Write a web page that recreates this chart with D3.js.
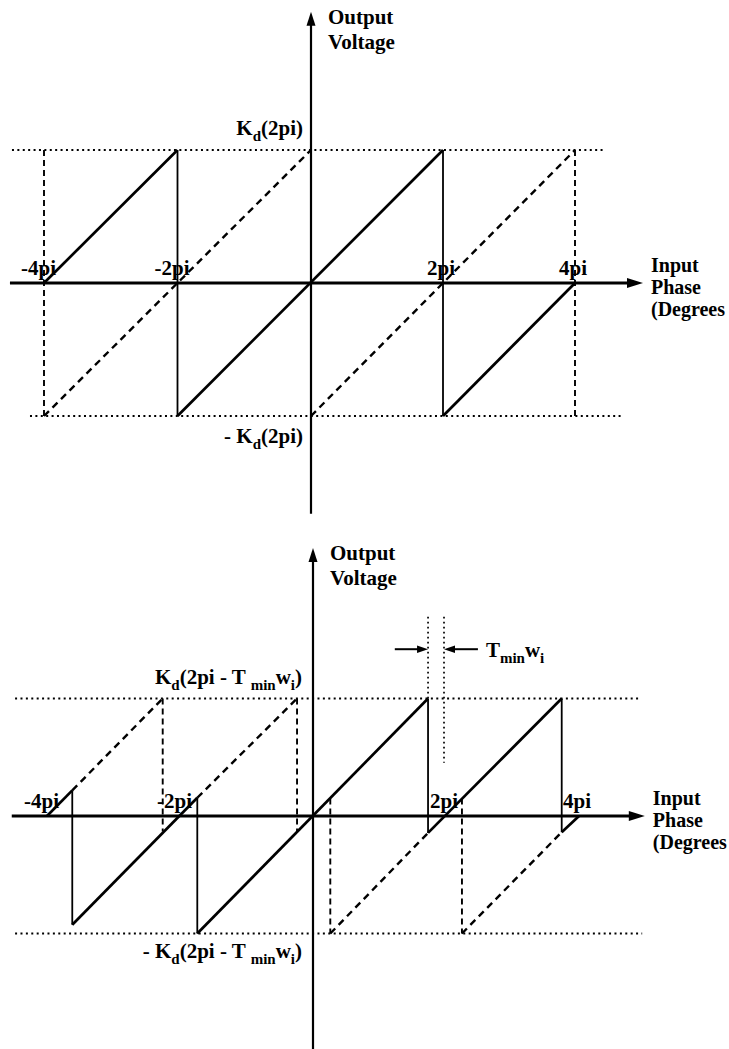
<!DOCTYPE html>
<html>
<head>
<meta charset="utf-8">
<script src="https://cdn.jsdelivr.net/npm/d3@7"></script>
<style>
  html, body { margin: 0; padding: 0; background: #fff; }
  svg { display: block; }
  text { font-family: "Liberation Serif", "Times New Roman", serif; font-weight: bold; font-size: 21px; fill: #000; }
  text.xtitle { font-size: 20px; }
</style>
</head>
<body>
<svg id="chart" width="729" height="1049"></svg>
<script>
// Phase is measured in multiples of pi; output voltage uses the same units (Kd = 1).
const phaseTicks = [-4, -2, 2, 4];
const phaseTickLabels = ["-4pi", "-2pi", "2pi", "4pi"];

// ---- Ideal phase detector (no dead time) ----
const idealRamps = [
  [[-4, 0], [-2, 2]],
  [[-2, -2], [2, 2]],
  [[2, -2], [4, 0]]
];
const idealResets = [
  [[-2, 2], [-2, -2]],
  [[2, 2], [2, -2]]
];
const idealAltRamps = [
  [[-4, -2], [0, 2]],
  [[0, -2], [4, 2]]
];
const idealAltBounds = [
  [[-4, 2], [-4, -2]],
  [[4, 2], [4, -2]]
];
const idealLimits = [
  { v: 2, from: -4.48, to: 4.45 },
  { v: -2, from: -4.21, to: 4.71 }
];

// ---- Phase detector with minimum pulse width Tmin*wi (~0.27 pi) ----
const deadRamps = [
  [[-4, 0], [-3.62, 0.38]],
  [[-3.62, -1.61], [-1.74, 0.27]],
  [[-1.74, -1.74], [1.73, 1.74]],
  [[1.73, -0.25], [3.74, 1.74]],
  [[3.74, -0.24], [4.0, 0]]
];
const deadResets = [
  [[-3.62, 0.38], [-3.62, -1.61]],
  [[-1.74, 0.27], [-1.74, -1.74]],
  [[1.73, 1.74], [1.73, -0.25]],
  [[3.74, 1.74], [3.74, -0.24]]
];
const deadAltRamps = [
  [[-3.62, 0.38], [-2.26, 1.74]],
  [[-1.74, 0.27], [-0.24, 1.74]],
  [[0.26, -1.74], [1.73, -0.25]],
  [[2.24, -1.74], [3.74, -0.24]]
];
const deadAltBounds = [
  [[-2.26, 1.74], [-2.26, -0.23]],
  [[-0.24, 1.74], [-0.24, -0.23]],
  [[0.26, 0.26], [0.26, -1.74]],
  [[2.24, 0.26], [2.24, -1.74]]
];
const deadLimits = [
  { v: 1.74, from: -4.48, to: 4.92 },
  { v: -1.74, from: -4.48, to: 4.95 }
];
// Tmin*wi gap marker
const gapGuides = [
  [[1.73, 2.95], [1.73, 1.74]],
  [[1.97, 2.95], [1.97, 0.79]]
];
const gapArrows = [
  { from: [1.23, 2.47], to: [1.73, 2.47] },
  { from: [2.48, 2.47], to: [1.97, 2.47] }
];

const svg = d3.select("#chart");

function addRich(g, x, y, parts, anchor) {
  const t = g.append("text").attr("x", x).attr("y", y).attr("text-anchor", anchor || "start");
  let shifted = 0;
  parts.forEach(p => {
    const s = t.append("tspan").text(p.t);
    const want = p.sub ? 6 : 0;
    if (want !== shifted) { s.attr("dy", want - shifted); shifted = want; }
    if (p.sub) s.style("font-size", "15px");
  });
  return t;
}

function arrowHead(g, tip, dir, len, half) {
  // dir: unit vector pointing toward the tip
  const [tx, ty] = tip, [dx, dy] = dir;
  const bx = tx - dx * len, by = ty - dy * len;
  const px = -dy * half, py = dx * half;
  g.append("path")
    .attr("d", `M${tx},${ty}L${bx + px},${by + py}L${bx - px},${by - py}Z`)
    .attr("fill", "#000");
}

function drawPanel(cfg) {
  const { x, y } = cfg;
  const g = svg.append("g");
  const line = d3.line().x(d => x(d[0])).y(d => y(d[1]));

  // limit levels (dotted)
  g.selectAll(".limit").data(cfg.limits).join("line")
    .attr("x1", d => x(d.from)).attr("x2", d => x(d.to))
    .attr("y1", d => y(d.v)).attr("y2", d => y(d.v))
    .attr("stroke", "#000").attr("stroke-width", 2)
    .attr("stroke-dasharray", "2,3.4");

  // axes
  g.append("line")
    .attr("x1", x(cfg.xAxis[0])).attr("x2", x(cfg.xAxis[1]) - 10)
    .attr("y1", y(0)).attr("y2", y(0))
    .attr("stroke", "#000").attr("stroke-width", 2.8);
  arrowHead(g, [x(cfg.xAxis[1]), y(0)], [1, 0], 16, 5);
  g.append("line")
    .attr("x1", x(0)).attr("x2", x(0))
    .attr("y1", y(cfg.yAxis[0])).attr("y2", y(cfg.yAxis[1]) + 8)
    .attr("stroke", "#000").attr("stroke-width", 2.2);
  arrowHead(g, [x(0), y(cfg.yAxis[1])], [0, -1], 14, 4.5);

  // alternate branch (dashed)
  g.selectAll(".altRamp").data(cfg.altRamps).join("path")
    .attr("d", line).attr("fill", "none")
    .attr("stroke", "#000").attr("stroke-width", 2.4)
    .attr("stroke-dasharray", "7,5");
  g.selectAll(".altBound").data(cfg.altBounds).join("path")
    .attr("d", line).attr("fill", "none")
    .attr("stroke", "#000").attr("stroke-width", 1.9)
    .attr("stroke-dasharray", "6,4");

  // detector characteristic (solid)
  g.selectAll(".reset").data(cfg.resets).join("path")
    .attr("d", line).attr("fill", "none")
    .attr("stroke", "#000").attr("stroke-width", 1.8);
  g.selectAll(".ramp").data(cfg.ramps).join("path")
    .attr("d", line).attr("fill", "none")
    .attr("stroke", "#000").attr("stroke-width", 2.7)
    .attr("stroke-linejoin", "round");

  // tick labels
  phaseTicks.forEach((t, i) => {
    g.append("text").attr("x", x(t) + 12).attr("y", y(0) - 8)
      .attr("text-anchor", "end").text(phaseTickLabels[i]);
  });

  // axis titles
  g.append("text").attr("x", x(0) + 17).attr("y", y(cfg.yAxis[1]) + 12).text("Output");
  g.append("text").attr("x", x(0) + 17).attr("y", y(cfg.yAxis[1]) + 37).text("Voltage");
  const ix = x(cfg.xAxis[1]) + 8;
  g.append("text").attr("class", "xtitle").attr("x", ix).attr("y", y(0) - 11).text("Input");
  g.append("text").attr("class", "xtitle").attr("x", ix).attr("y", y(0) + 11).text("Phase");
  g.append("text").attr("class", "xtitle").attr("x", ix).attr("y", y(0) + 33).text("(Degrees");

  // level labels
  addRich(g, x(0) - cfg.levelGap, y(cfg.limits[0].v) - 15, cfg.topLabel, "end");
  addRich(g, x(0) - cfg.levelGap, y(cfg.limits[1].v) + cfg.lowOffset, cfg.bottomLabel, "end");
  return g;
}

// Upper panel: ideal sawtooth characteristic
drawPanel({
  x: d3.scaleLinear().domain([-4, 0, 4]).range([44, 311, 575]),
  y: d3.scaleLinear().domain([-2, 2]).range([416, 150]),
  xAxis: [-4.51, 5.03],
  yAxis: [-3.47, 4.08],
  limits: idealLimits,
  ramps: idealRamps, resets: idealResets,
  altRamps: idealAltRamps, altBounds: idealAltBounds,
  levelGap: 8, lowOffset: 27,
  topLabel: [{ t: "K" }, { t: "d", sub: true }, { t: "(2pi)" }],
  bottomLabel: [{ t: "- K" }, { t: "d", sub: true }, { t: "(2pi)" }]
});

// Lower panel: characteristic with minimum reset time
const xB = d3.scaleLinear().domain([-4, 0, 4]).range([47, 313, 579]);
const yB = d3.scaleLinear().domain([-1.74, 1.74]).range([933.5, 698.5]);
const gB = drawPanel({
  x: xB, y: yB,
  xAxis: [-4.53, 4.99],
  yAxis: [-3.45, 3.97],
  limits: deadLimits,
  ramps: deadRamps, resets: deadResets,
  altRamps: deadAltRamps, altBounds: deadAltBounds,
  levelGap: 11, lowOffset: 24,
  topLabel: [{ t: "K" }, { t: "d", sub: true }, { t: "(2pi - T " }, { t: "min", sub: true }, { t: "w" }, { t: "i", sub: true }, { t: ")" }],
  bottomLabel: [{ t: "- K" }, { t: "d", sub: true }, { t: "(2pi - T " }, { t: "min", sub: true }, { t: "w" }, { t: "i", sub: true }, { t: ")" }]
});

// Tmin*wi marker
const lineB = d3.line().x(d => xB(d[0])).y(d => yB(d[1]));
gB.selectAll(".guide").data(gapGuides).join("path")
  .attr("d", lineB).attr("fill", "none")
  .attr("stroke", "#000").attr("stroke-width", 1.7)
  .attr("stroke-dasharray", "1.8,3.2");
gapArrows.forEach(a => {
  const x1 = xB(a.from[0]), x2 = xB(a.to[0]), yy = yB(a.to[1]);
  const dir = x2 > x1 ? 1 : -1;
  gB.append("line").attr("x1", x1).attr("x2", x2 - dir * 8)
    .attr("y1", yy).attr("y2", yy)
    .attr("stroke", "#000").attr("stroke-width", 2);
  arrowHead(gB, [x2, yy], [dir, 0], 11, 3.8);
});
addRich(gB, xB(2.6), yB(2.47) + 8, [{ t: "T" }, { t: "min", sub: true }, { t: "w" }, { t: "i", sub: true }], "start");
</script>
</body>
</html>
